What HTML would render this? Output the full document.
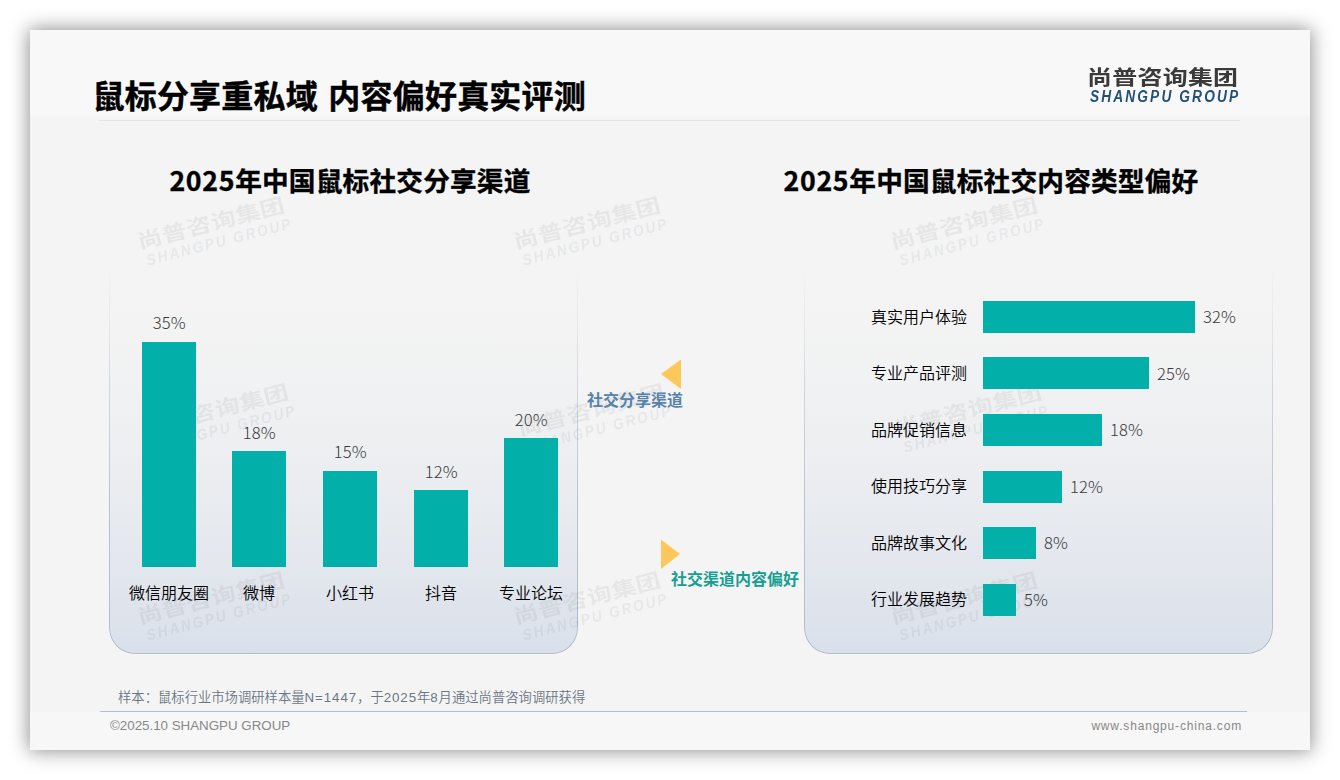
<!DOCTYPE html>
<html lang="zh-CN">
<head>
<meta charset="utf-8">
<title>鼠标分享重私域 内容偏好真实评测</title>
<style>
  html, body { margin: 0; padding: 0; }
  body {
    width: 1340px; height: 780px; overflow: hidden; background: #ffffff;
    font-family: "Liberation Sans", "Noto Sans CJK SC", sans-serif;
    position: relative;
  }
  .abs { position: absolute; }
  #slide {
    position: absolute; left: 30px; top: 30px; width: 1280px; height: 720px;
    background: #f4f4f4;
    box-shadow: 0 0 18px 1px rgba(0,0,0,0.45);
    overflow: hidden;
  }
  /* lighter header + footer bands */
  #hdr { left: 0; top: 0; width: 1280px; height: 92px;
    background: linear-gradient(to bottom, #f8f8f8 0, #f8f8f8 84px, #f4f4f4 89px, #f4f4f4 92px); }
  #ftr { left: 0; top: 682px; width: 1280px; height: 38px; background: #f7f7f7; }
  #hline { left: 69px; top: 90px; width: 1141px; height: 1px; background: #e4e4e4; }
  #fline { left: 70px; top: 681px; width: 1147px; height: 1px; background: #b0bece; }

  .cjk { font-family: "Noto Sans CJK SC", "Liberation Sans", sans-serif; }
  #title { left: 62.5px; top: 40px; height: 48px; line-height: 48px; font-size: 32px;
    font-weight: 700; color: #000; white-space: nowrap; letter-spacing: 0.2px; word-spacing: 3px; -webkit-text-stroke: 0.45px #000; }
  .ctitle { height: 40px; line-height: 40px; font-size: 26.67px; font-weight: 700; letter-spacing: 0.2px;
    color: #000; white-space: nowrap; text-align: center; -webkit-text-stroke: 0.35px #000; }

  .dg { letter-spacing: 0.7px; }
  /* logo */
  #logo1 { left: 1056.5px; top: 32.5px; height: 26px; line-height: 26px;
    font-size: 20.4px; font-weight: 700; color: #3a3a3a; white-space: nowrap; letter-spacing: 0.2px;
    transform: scaleX(1.225); transform-origin: 0 50%; }
  #logo2 { left: 1059.5px; top: 58px; height: 18px; line-height: 18px;
    font-size: 15.6px; font-weight: 700; font-style: italic; color: #22507a;
    white-space: nowrap; letter-spacing: 2.4px; transform: scaleX(0.88); transform-origin: 0 50%; }

  /* panels */
  .panel { top: 240px; width: 469px; height: 384px; box-sizing: border-box;
    border-radius: 0 0 26px 26px; }
  .panel .fill { position: absolute; inset: 0; border-radius: 0 0 26px 26px;
    background: linear-gradient(to bottom, rgba(218,224,234,0) 0%, rgba(218,224,234,0.07) 22%, rgba(218,224,234,0.28) 48%, rgba(218,224,234,0.62) 75%, rgba(218,224,234,1) 100%); }
  .panel .edge { position: absolute; inset: 0; border-radius: 0 0 26px 26px;
    border: 1px solid #b1bccb; border-top: none; box-sizing: border-box;
    -webkit-mask-image: linear-gradient(to bottom, rgba(0,0,0,0) 0%, rgba(0,0,0,0.12) 8%, rgba(0,0,0,0.5) 30%, rgba(0,0,0,0.85) 60%, rgba(0,0,0,1) 100%);
            mask-image: linear-gradient(to bottom, rgba(0,0,0,0) 0%, rgba(0,0,0,0.12) 8%, rgba(0,0,0,0.5) 30%, rgba(0,0,0,0.85) 60%, rgba(0,0,0,1) 100%); }

  .hl { top: 624px; width: 417px; height: 1px; background: rgba(246,249,254,0.9); }
  /* watermarks */
  .wm { width: 150px; height: 36px; transform: rotate(-14.5deg); transform-origin: 50% 50%; opacity: 0.068; }
  .wm b { position: absolute; left: -2.5px; top: -3.5px; height: 26px; line-height: 26px;
    font-family: "Noto Sans CJK SC", sans-serif; font-size: 20.4px; font-weight: 700; color: #3a3a3a;
    white-space: nowrap; letter-spacing: 0.2px; transform: scaleX(1.225); transform-origin: 0 50%; }
  .wm i { position: absolute; left: 1.5px; top: 22.5px; height: 18px; line-height: 18px;
    font-size: 15.6px; font-weight: 700; font-style: italic; color: #34465e;
    white-space: nowrap; letter-spacing: 2.4px; transform: scaleX(0.88); transform-origin: 0 50%; }

  /* bars */
  .bar { background: #02b0a9; }
  .val { font-family: "Noto Sans CJK SC", "Liberation Sans", sans-serif; font-weight: 300; font-size: 16.6px; color: #3a3a3a; height: 20px; line-height: 20px; white-space: nowrap; letter-spacing: 0.1px; }
  .vc { width: 80px; text-align: center; }
  .lab { font-size: 16px; color: #000; height: 22px; line-height: 22px; white-space: nowrap;
    font-family: "Noto Sans CJK SC", sans-serif; font-weight: 350; }
  .lc { width: 120px; text-align: center; }
  .lr { width: 140px; text-align: right; }

  .tag { font-family: "Noto Sans CJK SC", sans-serif; font-size: 16px; font-weight: 700;
    height: 22px; line-height: 22px; white-space: nowrap; }

  #note { left: 88px; top: 657.8px; height: 20px; line-height: 20px; font-size: 13.33px;
    color: #6b7684; white-space: nowrap; font-weight: 350; }
  #copy { left: 80px; top: 686px; height: 20px; line-height: 20px; font-size: 13.33px;
    color: #878787; white-space: nowrap; }
  #site { right: 68px; top: 685.6px; height: 20px; line-height: 20px; font-size: 12px;
    color: #878787; white-space: nowrap; letter-spacing: 0.82px; }
  .lt { letter-spacing: 0.9px; }
</style>
</head>
<body>
<div id="slide">
  <div id="hdr" class="abs"></div>
  <div id="ftr" class="abs"></div>
  <div id="hline" class="abs"></div>

  <!-- panels -->
  <div class="abs panel" style="left:79px"><div class="fill"></div><div class="edge"></div></div>
  <div class="abs panel" style="left:774px"><div class="fill"></div><div class="edge"></div></div>

  <div class="abs hl" style="left:105px"></div>
  <div class="abs hl" style="left:800px"></div>

  <!-- watermarks (3 x 3 grid) -->
  <div class="abs wm" style="left:108.5px;top:181.0px"><b>尚普咨询集团</b><i>SHANGPU GROUP</i></div>
  <div class="abs wm" style="left:485.4px;top:181.0px"><b>尚普咨询集团</b><i>SHANGPU GROUP</i></div>
  <div class="abs wm" style="left:861.8px;top:181.0px"><b>尚普咨询集团</b><i>SHANGPU GROUP</i></div>
  <div class="abs wm" style="left:112.5px;top:367.6px"><b>尚普咨询集团</b><i>SHANGPU GROUP</i></div>
  <div class="abs wm" style="left:489.4px;top:367.6px"><b>尚普咨询集团</b><i>SHANGPU GROUP</i></div>
  <div class="abs wm" style="left:865.8px;top:367.6px"><b>尚普咨询集团</b><i>SHANGPU GROUP</i></div>
  <div class="abs wm" style="left:108.5px;top:555.8px"><b>尚普咨询集团</b><i>SHANGPU GROUP</i></div>
  <div class="abs wm" style="left:485.4px;top:555.8px"><b>尚普咨询集团</b><i>SHANGPU GROUP</i></div>
  <div class="abs wm" style="left:861.8px;top:555.8px"><b>尚普咨询集团</b><i>SHANGPU GROUP</i></div>

  <!-- header -->
  <div id="title" class="abs cjk">鼠标分享重私域 内容偏好真实评测</div>
  <div id="logo1" class="abs cjk">尚普咨询集团</div>
  <div id="logo2" class="abs">SHANGPU GROUP</div>

  <!-- chart titles -->
  <div class="abs ctitle cjk" style="left:120px;top:130px;width:400px"><span class="dg">2025</span>年中国鼠标社交分享渠道</div>
  <div class="abs ctitle cjk" style="left:731px;top:130px;width:460px"><span class="dg">2025</span>年中国鼠标社交内容类型偏好</div>

  <!-- left column chart -->
  <div class="abs bar" style="left:112px;top:312px;width:54px;height:225px"></div>
  <div class="abs bar" style="left:202px;top:421px;width:54px;height:116px"></div>
  <div class="abs bar" style="left:293px;top:441px;width:54px;height:96px"></div>
  <div class="abs bar" style="left:384px;top:460px;width:54px;height:77px"></div>
  <div class="abs bar" style="left:474px;top:408px;width:54px;height:129px"></div>

  <div class="abs val vc" style="left:99.2px;top:281.5px">35%</div>
  <div class="abs val vc" style="left:189.2px;top:391.5px">18%</div>
  <div class="abs val vc" style="left:280.2px;top:410.5px">15%</div>
  <div class="abs val vc" style="left:371.2px;top:430.5px">12%</div>
  <div class="abs val vc" style="left:461.2px;top:378.5px">20%</div>

  <div class="abs lab lc" style="left:79px;top:551.4px">微信朋友圈</div>
  <div class="abs lab lc" style="left:169px;top:551.4px">微博</div>
  <div class="abs lab lc" style="left:260px;top:551.4px">小红书</div>
  <div class="abs lab lc" style="left:351px;top:551.4px">抖音</div>
  <div class="abs lab lc" style="left:441px;top:551.4px">专业论坛</div>

  <!-- middle tags -->
  <svg class="abs" style="left:630px;top:329px" width="22" height="32" viewBox="0 0 22 32"><polygon points="1,15 21,0.5 21,30" fill="#fcc85c"/></svg>
  <div class="abs tag" style="left:557px;top:358px;color:#5782ab">社交分享渠道</div>
  <svg class="abs" style="left:630px;top:509px" width="22" height="32" viewBox="0 0 22 32"><polygon points="1,0.5 20,15 1,30" fill="#fcc85c"/></svg>
  <div class="abs tag" style="left:641px;top:537px;color:#179f92">社交渠道内容偏好</div>

  <!-- right bar chart -->
  <div class="abs bar" style="left:953px;top:271px;width:212px;height:32px"></div>
  <div class="abs bar" style="left:953px;top:327px;width:166px;height:32px"></div>
  <div class="abs bar" style="left:953px;top:384px;width:119px;height:32px"></div>
  <div class="abs bar" style="left:953px;top:441px;width:79px;height:32px"></div>
  <div class="abs bar" style="left:953px;top:497px;width:53px;height:32px"></div>
  <div class="abs bar" style="left:953px;top:554px;width:33px;height:32px"></div>

  <div class="abs lab lr" style="left:797px;top:274.7px">真实用户体验</div>
  <div class="abs lab lr" style="left:797px;top:331.2px">专业产品评测</div>
  <div class="abs lab lr" style="left:797px;top:387.7px">品牌促销信息</div>
  <div class="abs lab lr" style="left:797px;top:444.2px">使用技巧分享</div>
  <div class="abs lab lr" style="left:797px;top:500.7px">品牌故事文化</div>
  <div class="abs lab lr" style="left:797px;top:557.2px">行业发展趋势</div>

  <div class="abs val" style="left:1173px;top:276.4px">32%</div>
  <div class="abs val" style="left:1127px;top:332.9px">25%</div>
  <div class="abs val" style="left:1080px;top:389.4px">18%</div>
  <div class="abs val" style="left:1040px;top:445.9px">12%</div>
  <div class="abs val" style="left:1014px;top:502.4px">8%</div>
  <div class="abs val" style="left:994px;top:558.9px">5%</div>

  <!-- footer -->
  <div id="note" class="abs">样本：鼠标行业市场调研样本量<span class="lt">N=1447</span>，于<span class="lt">2025</span>年<span class="lt">8</span>月通过尚普咨询调研获得</div>
  <div id="fline" class="abs"></div>
  <div id="copy" class="abs">©2025.10 SHANGPU GROUP</div>
  <div id="site" class="abs">www.shangpu-china.com</div>
</div>
</body>
</html>
